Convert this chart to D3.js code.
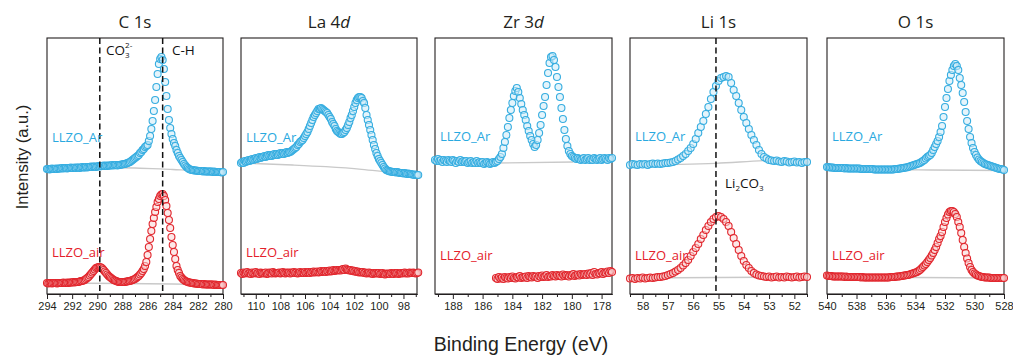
<!DOCTYPE html>
<html>
<head>
<meta charset="utf-8">
<title>XPS LLZO</title>
<script src="https://cdn.jsdelivr.net/npm/d3@7/dist/d3.min.js"></script>
<style>
body{margin:0;background:#fff;}
</style>
</head>
<body>
<svg width="1013" height="356"></svg>
<script>
/* data: intensities (a.u., stacked), one point every 0.1 eV from the start energy */
var step = 0.1;

var titleMain = ["C 1s", "La 4", "Zr 3", "Li 1s", "O 1s"];
var titleItalic = ["", "d", "d", "", ""];
var domains = [[294, 280], [111.2, 96.9], [189.2, 177.3], [58.5, 51.5], [540, 528]];
var majorTicks = [
	[294, 292, 290, 288, 286, 284, 282, 280],
	[110, 108, 106, 104, 102, 100, 98],
	[188, 186, 184, 182, 180, 178],
	[58, 57, 56, 55, 54, 53, 52],
	[540, 538, 536, 534, 532, 530, 528]
];
var minorTicks = [
	[293, 291, 289, 287, 285, 283, 281],
	[111, 109, 107, 105, 103, 101, 99, 97],
	[189, 187, 185, 183, 181, 179],
	[58.5, 57.5, 56.5, 55.5, 54.5, 53.5, 52.5, 51.5],
	[539, 537, 535, 533, 531, 529]
];
var seriesNames = ["LLZO_Ar", "LLZO_air"];
var arStart = [294, 111.2, 189.2, 58.5, 540];
var airStart = [294, 111.2, 185.1, 58.5, 540];

var c1sAr = [124,124,123.5,124,124.5,124,124,124.5,124,124.5,124.5,
	124.5,125,124.5,125,125,124.5,125,125,125.5,125,
	125,125.5,125,125.5,125.5,125,125.5,126,125.5,125.5,
	126,125.5,126,126,126.5,126,126.5,126.5,126,126.5,
	127,126.5,127,127,127.5,127,127.5,127,127.5,127.5,
	127.5,128,127.5,128,128,127.5,128,128,128.5,128.5,
	129,129,129.5,130,130.5,131,132,133,134,135,
	136,137,138,140,141,143,144,146,147,148,
	152,157,164,172,182,193,206,219,229,234,
	236,233,224,211,197,184,173,165,159,154,
	150,147,143,140,137,135,133,131,129,127.5,
	126,125,124,123.5,123,123,122.5,122.5,122.5,122,
	122,122,122,121.5,122,121.5,121.5,121.5,121.5,121.5,
	121.5,121,121.5,121,121,121,121,121,120.5,121];
var c1sAir = [10,9.5,10,10,9.5,10,10,10,9.5,10,10,
	10,10,10.5,10,10,10.5,10,10.5,10.5,10.5,
	11,10.5,11,11,11,11.5,12,12,12.5,13,
	14,15,16,17.5,19,20.5,22,23.5,25,25.5,
	26,26,25.5,24.5,23,21.5,20,18.5,17,16,
	15,14,13,12.5,12,11.5,11,11,11,11,
	11,11,11.5,11.5,12,12,12.5,13,13.5,14,
	15,16,17,18.5,20,22,24,27,31,38,
	46,54,62,69,75,81,86,91,94,97,
	98.5,99,97,93,87,80,73,65,56,48,
	41,34,27,23,20,17,15.5,14,13,12,
	11.5,11,10.5,10.5,10,10,9.5,9.5,9.5,9,
	9,9,9,8.5,9,8.5,8.5,8.5,8.5,8.5,
	8.5,8.5,8,8.5,8,8,8,8,8,8];

var la4dAr = [130,131,130,132,131,132,133,132,133,134,
	133,134,135,134,135,136,135,136,136,137,
	136,137,138,137,138,137,138,139,138,139,
	138,139,140,139,140,139,140,141,140,141,
	141,142,143,144,145,146,148,149,151,152,
	153,155,157,159,161,164,167,170,173,176,
	178,180,182,184,184,185,184,183,182,181,
	180,178,176,174,171,169,167,164,162,161,
	160,159,159,160,161,163,165,168,171,175,
	178,182,186,190,193,195,196,196,195,192,
	190,185,178,173,168,163,158,153,148,144,
	140,137,134,132,130,128,126,124.5,123,122.5,
	122,121.5,121.5,121,121,121,120.5,121,120.5,120,
	120,120,119.5,120,119.5,119,119.5,119,119,118.5,
	118.5,118,118.5,118,118];
var la4dAir = [20,19,20.5,19.5,20,21,19.5,20,19,20.5,
	19.5,20,21,19.5,20,19,20.5,20,19.5,20,
	20.5,19,19.5,20.5,20,19.5,21,20,19.5,20,
	20,20.5,19.5,20,21,20,19.5,20.5,20,20.5,
	19.5,20.5,20,21,20,20.5,19.5,20,21,20,
	20.5,20,21,20,20.5,21,20,21,20.5,21.5,
	20.5,21,21.5,20.5,21,22,21,21.5,22,21,
	22,21.5,22.5,21.5,22,23,22,22.5,23,22.5,
	23,22.5,23.5,24,23,24.5,23.5,23,22.5,23,
	22,22.5,21.5,22,21,21.5,20.5,21,20.5,21,
	20,20.5,19.5,20,20.5,19.5,20,19,20,19.5,
	20,19.5,20,19,19.5,20,19,18.5,19.5,19,
	19.5,19,20,19.5,19,20,19.5,20,19,19.5,
	20,19.5,20,20.5,19.5,20,19.5,20.5,20,20,
	20.5,20,19.5,20,20.5];

var zr3dAr = [133,132,134,132,133,131,133,132,131,133,
	132,131,133,132,130,132,131,133,131,132,
	131,132,130,131,132,130,131,130,132,130,
	131,130,131,129,130,131,130,129,130,131,
	130,131,132,134,136,139,145,151,158,166,
	175,183,190,197,202,205,201,195,189,183,
	178,173,167,162,157,153,149,146,148,153,
	160,168,178,187,196,208,220,230,236,237,
	233,226,216,206,196,185,174,163,154,147,
	142,139,137,136,135,134,135,134,133,134,
	135,133,134,135,133,134,133,135,134,133,
	134,135,133,134,135,134,133,135,134,135];
var zr3dAir = [15,14,16,14.5,15.5,14,16,15,14.5,16,
	15,16.5,15,14.5,16,15.5,17,15,16,15.5,
	16.5,15,17,16,15.5,17,16,16.5,15,17,
	16,17.5,16,16.5,18,16,17,16.5,18,17,
	16.5,18,17,17.5,16.5,18.5,17,18,17.5,16.5,
	18,17.5,19,17,18,18.5,17.5,19,18,18.5,
	19,18,19.5,18.5,20,18,21,19,18.5,20,
	19.5,21,19,20.5,20,21.5,20,22,21];

var li1sAr = [128,129,128.5,128,129,128.5,129,128,129,129.5,
	129,129.5,129,129.5,130,130,130.5,131,132,133.5,
	135,137,139,142,145,149,154,160,166,172,
	179,186,194,201,207,212,215,216,217,216,
	210,203,197,190,183,176,170,164,158,153,
	148,143,139,136,134.5,133,132.5,132,132.5,131.5,
	131,132,131.5,130.5,131,131.5,130.5,131,130,131,
	131];
var li1sAir = [14.5,15,14,15,14.5,15.5,14.5,15,15.5,15,
	15.5,16,16,16.5,17,18,19,20,21.5,23,
	25,27.5,30,33,37,41,45,49,54,58,
	63,67,71,74,76,77,76,74,71,67,
	61,55,49,43,37,32,28,25,22,20,
	18.5,17.5,17,16.5,16,16.5,15.5,16,16.5,15.5,
	16,15.5,16.5,16,15.5,16,16.5,15.5,16,16.5,
	16];

var o1sAr = [126,126,125.5,125.5,125.5,125,125,125,125,125,
	125,125,124.5,125,124.5,124.5,124.5,124.5,124.5,124.5,
	124.5,124.5,124.5,124,124,124,124,124,124,124,
	124,124,123.5,123.5,123.5,123.5,123.5,123.5,123.5,123.5,
	123.5,123.5,123.5,123.5,123.5,123.5,124,124,124,124.5,
	124.5,125,125,125.5,125.5,126,126.5,127,127.5,128,
	128.5,129,129.5,130,131,132,133,134.5,136,137,
	138,140,143,146,149,152,156,161,167,176,
	186,195,204,212,218,223,227,229,227,223,
	215,208,200,191,181,172,164,156,150,145,
	141,138,135.5,133.5,132,131,130,129,128.5,128,
	127.5,127,126.5,126,125.5,125,124.5,124,124,123.5,
	123];
var o1sAir = [17.5,17,17,17,16.5,16.5,16.5,16.5,16.5,16.5,
	16.5,16.5,16,16.5,16,16,16,16,16,16,
	16,16,16,15.5,16,15.5,15.5,15.5,15.5,15.5,
	15.5,15.5,15.5,15.5,15.5,15.5,15.5,15.5,15.5,15.5,
	15.5,15.5,15.5,16,16,16,16,16.5,16.5,16.5,
	17,17,17.5,17.5,18,18,18.5,19,19.5,20,
	20.5,21,22,23,24.5,26,27.5,29,31,33,
	35,37.5,40,43,46,50,54,57,61,66,
	71,75,78.5,81,82,82,81,79,76,71,
	66,60,53,46,40,34.5,30,26,23,21,
	19.5,18.5,17.5,17,16.5,16,16,15.5,15.5,15.5,
	15.5,15,15,15,15,15,15,15,15,15,
	15];

var arValues = [c1sAr, la4dAr, zr3dAr, li1sAr, o1sAr];
var airValues = [c1sAir, la4dAir, zr3dAir, li1sAir, o1sAir];

/* fitted backgrounds (energy, intensity) */
var bgArE = [[294, 290, 287, 284, 282, 280], [111.2, 107, 104.3, 101.4, 99.5, 96.9], [185.2, 179.9], [58.5, 55.1, 53, 51.5], [540, 536, 533, 528]];
var bgArV = [[124, 125.5, 125, 123.5, 122.5, 121], [130, 128, 126.3, 123.7, 121.3, 118], [130, 131], [128, 129.7, 132.5, 133], [125.5, 123.5, 123, 122.5]];
var bgAirE = [[294, 288, 284, 280], [111.2, 96.9], [185.1, 177.3], [58.5, 51.5], [540, 534, 528]];
var bgAirV = [[10, 9.5, 9, 8], [20, 19.5], [15, 20], [15, 16], [16, 15.5, 15]];

/* reference lines */
var refLines = [[289.8, 284.8], [], [], [55.1], []];

/* layout */
var svg = d3.select("svg");
var panelLeft = [47, 241, 435, 630, 827];
var panelWidth = [176, 176, 177, 177, 177];
var plotTop = 38, plotBottom = 294;
var arColor = "#36ade0", arFill = "#cdebf8";
var airColor = "#e1262d", airFill = "#f9d6d6";

var y = d3.scaleLinear().domain([0, 256]).range([293, 37]);

panelLeft.forEach(function(left, p){
	var x = d3.scaleLinear().domain(domains[p]).range([left, left + panelWidth[p]]);
	var g = svg.append("g");

	/* frame */
	g.append("rect")
		.attr("x", left).attr("y", plotTop)
		.attr("width", panelWidth[p]).attr("height", plotBottom - plotTop)
		.attr("fill", "none").attr("stroke", "#231f20").attr("stroke-width", 1.1);

	/* axis */
	var axMajor = d3.axisBottom(x).tickValues(majorTicks[p]).tickSize(5).tickSizeOuter(0).tickPadding(3)
		.tickFormat(d3.format("d"));
	var axMinor = d3.axisBottom(x).tickValues(minorTicks[p]).tickSize(3).tickSizeOuter(0).tickFormat("");
	var ga = g.append("g").attr("transform", "translate(0," + plotBottom + ")").call(axMajor);
	var gm = g.append("g").attr("transform", "translate(0," + plotBottom + ")").call(axMinor);
	[ga, gm].forEach(function(a){
		a.select(".domain").attr("stroke", "#231f20").attr("stroke-width", 1.1);
		a.selectAll(".tick line").attr("stroke", "#231f20").attr("stroke-width", 1);
	});
	ga.selectAll(".tick text")
		.attr("font-family", "'Liberation Sans', Arial, sans-serif")
		.attr("font-size", "11px").attr("fill", "#231f20");

	/* backgrounds */
	var line = d3.line().curve(d3.curveMonotoneX)
		.x(function(d){ return x(d[0]); })
		.y(function(d){ return y(d[1]); });
	g.append("path").datum(d3.zip(bgAirE[p], bgAirV[p])).attr("d", line)
		.attr("fill", "none").attr("stroke", "#c9c9c9").attr("stroke-width", 1.3);
	g.append("path").datum(d3.zip(bgArE[p], bgArV[p])).attr("d", line)
		.attr("fill", "none").attr("stroke", "#c9c9c9").attr("stroke-width", 1.3);

	/* data points */
	function drawSeries(values, start, stroke, fill){
		g.append("g").selectAll("circle")
			.data(values)
			.enter()
			.append("circle")
			.attr("cx", function(d, i){ return x(start - i * step); })
			.attr("cy", function(d){ return y(d); })
			.attr("r", 3.5)
			.attr("fill", fill).attr("fill-opacity", 0.55)
			.attr("stroke", stroke).attr("stroke-width", 1.1);
	}
	drawSeries(arValues[p], arStart[p], arColor, arFill);
	drawSeries(airValues[p], airStart[p], airColor, airFill);

	/* dashed reference lines */
	g.selectAll(".ref")
		.data(refLines[p])
		.enter()
		.append("line")
		.attr("x1", function(d){ return x(d); }).attr("x2", function(d){ return x(d); })
		.attr("y1", plotTop).attr("y2", plotBottom)
		.attr("stroke", "#111").attr("stroke-width", 1.5)
		.attr("stroke-dasharray", "6,3.5");

	/* title */
	var t = svg.append("text")
		.attr("x", left + panelWidth[p] / 2).attr("y", 28)
		.attr("text-anchor", "middle")
		.attr("font-family", "'Open Sans', 'Noto Sans', sans-serif")
		.attr("font-size", "17px").attr("fill", "#231f20");
	t.append("tspan").text(titleMain[p]);
	t.append("tspan").attr("font-style", "italic").text(titleItalic[p]);

	/* series labels */
	svg.append("text")
		.attr("x", left + 5).attr("y", p < 2 ? 141.5 : 140.5)
		.attr("font-family", "'Open Sans', 'Noto Sans', sans-serif")
		.attr("font-size", "13px").attr("fill", "#29a9e0")
		.text(seriesNames[0]);
	svg.append("text")
		.attr("x", left + 5).attr("y", p < 2 ? 257 : 260)
		.attr("font-family", "'Open Sans', 'Noto Sans', sans-serif")
		.attr("font-size", "13px").attr("fill", "#e4202a")
		.text(seriesNames[1]);
});

/* peak annotations */
var annFont = "'Open Sans', 'Noto Sans', sans-serif";
var co3 = svg.append("text").attr("x", 106).attr("y", 55)
	.attr("font-family", annFont).attr("font-size", "13.5px").attr("fill", "#111");
co3.append("tspan").text("CO");
co3.append("tspan").attr("font-size", "8px").attr("dy", 3).text("3");
co3.append("tspan").attr("font-size", "8px").attr("dx", -4.5).attr("dy", -10).text("2-");

svg.append("text").attr("x", 172).attr("y", 55)
	.attr("font-family", annFont).attr("font-size", "13.5px").attr("fill", "#111")
	.text("C-H");

var li2 = svg.append("text").attr("x", 725).attr("y", 188)
	.attr("font-family", annFont).attr("font-size", "13.5px").attr("fill", "#111");
li2.append("tspan").text("Li");
li2.append("tspan").attr("font-size", "8px").attr("dy", 3).text("2");
li2.append("tspan").attr("dy", -3).text("CO");
li2.append("tspan").attr("font-size", "8px").attr("dy", 3).text("3");

/* axis titles */
svg.append("text")
	.attr("transform", "translate(28,157) rotate(-90)")
	.attr("text-anchor", "middle")
	.attr("font-family", "'Liberation Sans', Arial, sans-serif")
	.attr("font-size", "16.5px").attr("fill", "#231f20")
	.text("Intensity (a.u.)");
svg.append("text")
	.attr("x", 521).attr("y", 351)
	.attr("text-anchor", "middle")
	.attr("font-family", "'Liberation Sans', Arial, sans-serif")
	.attr("font-size", "19.5px").attr("fill", "#231f20")
	.text("Binding Energy (eV)");
</script>
</body>
</html>
